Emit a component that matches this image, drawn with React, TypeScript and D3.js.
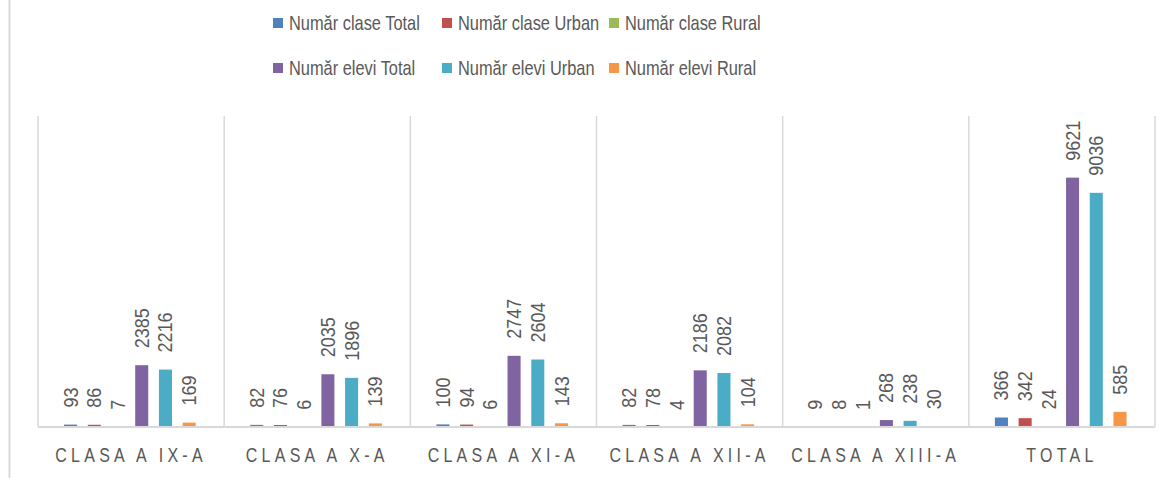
import * as d3 from 'd3';
import React, { useEffect, useRef } from 'react';

const categories = ['CLASA A IX-A', 'CLASA A X-A', 'CLASA A XI-A', 'CLASA A XII-A', 'CLASA A XIII-A', 'TOTAL'];
const seriesNames = [
  'Număr clase Total',
  'Număr clase Urban',
  'Număr clase Rural',
  'Număr elevi Total',
  'Număr elevi Urban',
  'Număr elevi Rural',
];
const claseTotal = [93, 82, 100, 82, 9, 366];
const claseUrban = [86, 76, 94, 78, 8, 342];
const claseRural = [7, 6, 6, 4, 1, 24];
const eleviTotal = [2385, 2035, 2747, 2186, 268, 9621];
const eleviUrban = [2216, 1896, 2604, 2082, 238, 9036];
const eleviRural = [169, 139, 143, 104, 30, 585];
const colors = ['#4f81bd', '#c0504d', '#9bbb59', '#8064a2', '#4bacc6', '#f79646'];

const W = 1171;
const H = 478;
const FONT = '"Liberation Sans", Arial, sans-serif';
const TEXT = '#595959';
const GRID = '#d9d9d9';
// the source font is narrower than Liberation Sans
const SQUEEZE = 0.82;

const App = () => {
  const ref = useRef<SVGSVGElement>(null);

  useEffect(() => {
    const svg = d3.select(ref.current);
    svg.selectAll('*').remove();

    const series = [claseTotal, claseUrban, claseRural, eleviTotal, eleviUrban, eleviRural];
    const left = 38, right = 1155, top = 116, bottom = 427;

    // chart frame (left edge visible)
    svg.append('line')
      .attr('x1', 9.5).attr('x2', 9.5).attr('y1', 0).attr('y2', H)
      .attr('stroke', GRID).attr('stroke-width', 2);

    const x0 = d3.scaleBand().domain(categories).range([left, right]).padding(0);
    const bw = x0.bandwidth();
    const x1 = d3.scaleBand<number>()
      .domain(d3.range(series.length))
      .range([bw * 0.14, bw * 0.847])
      .paddingInner(0.45)
      .paddingOuter(0);
    const y = d3.scaleLinear().domain([0, 12000]).range([bottom, top]);

    // vertical category separators
    const bounds = categories.map(c => x0(c)!).concat([right]);
    svg.append('g').selectAll('line').data(bounds).enter().append('line')
      .attr('x1', d => d).attr('x2', d => d)
      .attr('y1', top).attr('y2', bottom)
      .attr('stroke', GRID).attr('stroke-width', 1.5);

    const groups = svg.append('g').selectAll('g').data(categories).enter().append('g')
      .attr('transform', c => `translate(${x0(c)},0)`);

    series.forEach((vals, si) => {
      groups.append('rect')
        .attr('x', () => x1(si)!)
        .attr('y', (_, ci) => y(vals[ci]))
        .attr('width', x1.bandwidth())
        .attr('height', (_, ci) => bottom - y(vals[ci]))
        .attr('fill', colors[si]);

      groups.append('text')
        .attr('transform', (_, ci) =>
          `translate(${x1(si)! + x1.bandwidth() / 2},${y(vals[ci]) - 17}) rotate(-90) scale(0.9,1)`)
        .attr('dy', '0.35em')
        .attr('text-anchor', 'start')
        .attr('font-family', FONT)
        .attr('font-size', 20)
        .attr('fill', TEXT)
        .text((_, ci) => vals[ci]);
    });

    // baseline
    svg.append('line')
      .attr('x1', left).attr('x2', right).attr('y1', bottom).attr('y2', bottom)
      .attr('stroke', GRID).attr('stroke-width', 2);

    // category labels
    svg.append('g').selectAll('text').data(categories).enter().append('text')
      .attr('transform', c => `translate(${x0(c)! + bw / 2},462) scale(${SQUEEZE},1)`)
      .attr('text-anchor', 'middle')
      .attr('font-family', FONT)
      .attr('font-size', 19.5)
      .attr('letter-spacing', 5.2)
      .attr('fill', TEXT)
      .text(c => c);

    // legend
    const legX = [273, 442, 609];
    const legY = [23, 68];
    const leg = svg.append('g').selectAll('g').data(seriesNames).enter().append('g')
      .attr('transform', (_, i) => `translate(${legX[i % 3]},${legY[Math.floor(i / 3)]})`);
    leg.append('rect')
      .attr('x', 0).attr('y', -5).attr('width', 10).attr('height', 10)
      .attr('fill', (_, i) => colors[i]);
    leg.append('text')
      .attr('transform', `translate(16,0) scale(${SQUEEZE},1)`)
      .attr('dy', '0.35em')
      .attr('font-family', FONT)
      .attr('font-size', 20)
      .attr('fill', TEXT)
      .text(d => d);
  }, []);

  return (
    <svg
      ref={ref}
      width={W}
      height={H}
      style={{ position: 'absolute', left: 0, top: 0, background: '#fff' }}
    />
  );
};

export default App;
